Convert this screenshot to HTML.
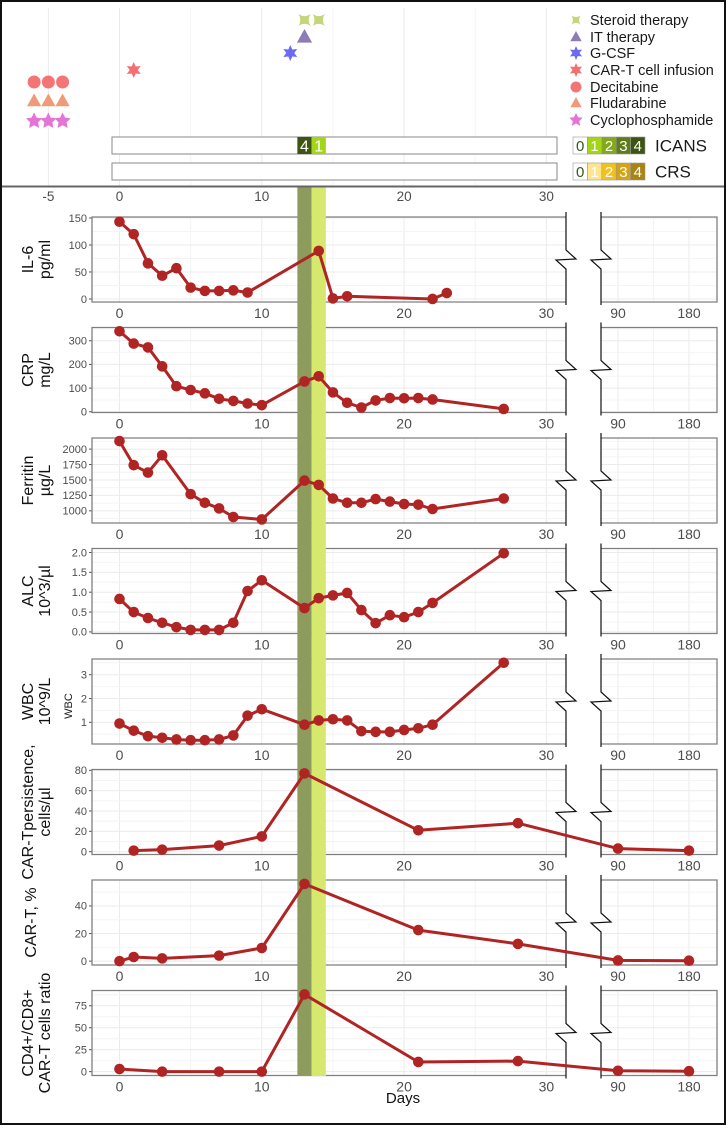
<!DOCTYPE html>
<html><head><meta charset="utf-8"><style>
html,body{margin:0;padding:0;background:#fff;}
svg{display:block;font-family:"Liberation Sans",sans-serif;}
</style></head><body>
<svg id="chart" width="726" height="1126" viewBox="0 0 726 1126" xmlns="http://www.w3.org/2000/svg"></svg>
<script>
// ---------- data ----------
const il6Days = [0,1,2,3,4,5,6,7,8,9,14,15,16,22,23];
const il6Vals = [143,120,66,43,57,21,15,15,16,12,89,1,5,0,11];
const crpDays = [0,1,2,3,4,5,6,7,8,9,10,13,14,15,16,17,18,19,20,21,22,27];
const crpVals = [340,288,272,192,108,92,78,55,46,35,28,128,150,82,38,18,48,58,57,58,52,12];
const ferDays = [0,1,2,3,5,6,7,8,10,13,14,15,16,17,18,19,20,21,22,27];
const ferVals = [2130,1740,1620,1900,1270,1130,1040,900,860,1490,1420,1200,1130,1130,1190,1150,1110,1100,1030,1200];
const alcDays = [0,1,2,3,4,5,6,7,8,9,10,13,14,15,16,17,18,19,20,21,22,27];
const alcVals = [0.83,0.5,0.35,0.23,0.12,0.05,0.05,0.05,0.23,1.03,1.3,0.6,0.85,0.92,0.98,0.55,0.22,0.42,0.37,0.5,0.73,1.98];
const wbcDays = [0,1,2,3,4,5,6,7,8,9,10,13,14,15,16,17,18,19,20,21,22,27];
const wbcVals = [0.95,0.65,0.42,0.35,0.28,0.25,0.25,0.28,0.45,1.28,1.55,0.9,1.08,1.13,1.08,0.63,0.6,0.6,0.68,0.75,0.9,3.5];
const persDays = [1,3,7,10,13,21,28,90,180];
const persVals = [1,2,6,15,77,21,28,3,1];
const pctDays = [0,1,3,7,10,13,21,28,90,180];
const pctVals = [0,3,2,4,9.5,56,22.5,12.5,0.5,0.3];
const ratioDays = [0,3,7,10,13,21,28,90,180];
const ratioVals = [3,0,0,0,88,11,12,1,0.5];
const il6Ticks = [0,50,100,150];
const crpTicks = [0,100,200,300];
const ferTicks = [1000,1250,1500,1750,2000];
const alcTicks = [0,0.5,1,1.5,2];
const alcTickLabels = ["0.0","0.5","1.0","1.5","2.0"];
const wbcTicks = [1,2,3];
const persTicks = [0,20,40,60,80];
const pctTicks = [0,20,40];
const ratioTicks = [0,25,50,75];
const xTicksLeft = [0,10,20,30];
const xTicksRight = [90,180];
const topTicks = [-5,0,10,20,30];
const legendLabels = ["Steroid therapy","IT therapy","G-CSF","CAR-T cell infusion","Decitabine","Fludarabine","Cyclophosphamide"];
const steroidDays = [13,14];
const itDays = [13];
const gcsfDays = [12];
const infusionDays = [1];
const decitabineDays = [-6,-5,-4];
const fludarabineDays = [-6,-5,-4];
const cycloDays = [-6,-5,-4];
const icansGrades = [{start:12.5,end:13.5,grade:4},{start:13.5,end:14.5,grade:1}];
const icansColors = ["#ffffff","#a4d616","#84a81c","#5f7c1a","#3d5412"];
const crsColors = ["#ffffff","#ffe58e","#f1c21f","#d4a414","#a88412"];

// ---------- scales ----------
const NS="http://www.w3.org/2000/svg";
const svg=document.getElementById('chart');
function mk(tag,attrs,parent){const e=document.createElementNS(NS,tag);for(const k in attrs)e.setAttribute(k,attrs[k]);(parent||svg).appendChild(e);return e;}
const X0=119.5, PX=14.23;
function xL(d){return X0+d*PX;}
const LEFT=92, LRIGHT=566, RLEFT=601, RRIGHT=717;
function xR(d){return 618+(d-90)*(71/90);}
function xAny(d){return d>60?xR(d):xL(d);}

const panels=[
 {name:'il6',l1:'IL-6',l2:'pg/ml',days:il6Days,vals:il6Vals,ticks:il6Ticks,dom:[-5.6,151.8]},
 {name:'crp',l1:'CRP',l2:'mg/L',days:crpDays,vals:crpVals,ticks:crpTicks,dom:[-3,356]},
 {name:'ferritin',l1:'Ferritin',l2:'µg/L',days:ferDays,vals:ferVals,ticks:ferTicks,dom:[803,2180]},
 {name:'alc',l1:'ALC',l2:'10^3/µl',days:alcDays,vals:alcVals,ticks:alcTicks,labels:alcTickLabels,dom:[-0.04,2.1]},
 {name:'wbc',l1:'WBC',l2:'10^9/L',days:wbcDays,vals:wbcVals,ticks:wbcTicks,dom:[0.09,3.66],extra:'WBC'},
 {name:'car-t-persistence',l1:'CAR-Tpersistence,',l2:'cells/µl',days:persDays,vals:persVals,ticks:persTicks,dom:[-2.8,80.8]},
 {name:'car-t-percent',l1:'CAR-T, %',l2:null,days:pctDays,vals:pctVals,ticks:pctTicks,dom:[-2.8,58.8]},
 {name:'cd4-cd8-ratio',l1:'CD4+/CD8+',l2:'CAR-T cells ratio',days:ratioDays,vals:ratioVals,ticks:ratioTicks,dom:[-4.4,92.4]}
];
const H=85;

// ---------- top section ----------
const topG=mk('g',{});


[-5,0,5,10,15,20,25,30].forEach(d=>{mk('line',{x1:xL(d),x2:xL(d),y1:8,y2:186,stroke:(d%10===0||d===-5)?'#ebebeb':'#f6f6f6','stroke-width':1},topG);});

function star(cx,cy,r,n,color,parent){let p=[];for(let i=0;i<2*n;i++){const a=-Math.PI/2+i*Math.PI/n;const rr=i%2?r*0.5:r;p.push((cx+rr*Math.cos(a)).toFixed(1)+','+(cy+rr*Math.sin(a)).toFixed(1));}return mk('polygon',{points:p.join(' '),fill:color},parent);}
function tri(cx,cy,r,color,parent){return mk('polygon',{points:`${cx},${cy-r} ${cx+r*0.95},${cy+r*0.7} ${cx-r*0.95},${cy+r*0.7}`,fill:color},parent);}
function bow(cx,cy,r,color,parent){return mk('path',{d:`M${cx-r},${cy-r} Q${cx},${cy-r*0.3} ${cx+r},${cy-r} Q${cx+r*0.4},${cy} ${cx+r},${cy+r} Q${cx},${cy+r*0.3} ${cx-r},${cy+r} Q${cx-r*0.4},${cy} ${cx-r},${cy-r}Z`,fill:color},parent);}
function circ(cx,cy,r,color,parent){return mk('circle',{cx:cx,cy:cy,r:r,fill:color},parent);}

const colSteroid='#c3d77a', colIT='#8d7cb6', colG='#6a6af5', colInf='#f46f6f', colDec='#f47575', colFlu='#f09a78', colCyc='#e574d6';
steroidDays.forEach(d=>{const m=bow(xL(d),20,6,colSteroid,topG);

});
itDays.forEach(d=>{const m=tri(xL(d),37,8,colIT,topG);

});
gcsfDays.forEach(d=>{const m=star(xL(d),53,8,6,colG,topG);

});
infusionDays.forEach(d=>{const m=star(xL(d),70,8,6,colInf,topG);

});
decitabineDays.forEach(d=>{const m=circ(xL(d),82,6.5,colDec,topG);

});
fludarabineDays.forEach(d=>{const m=tri(xL(d),101,7.5,colFlu,topG);

});
cycloDays.forEach(d=>{const m=star(xL(d),121,8.5,5,colCyc,topG);

});

// legend
const legColors=[colSteroid,colIT,colG,colInf,colDec,colFlu,colCyc];
const legY=[20,37,53,70,87,103,120];
legendLabels.forEach((lab,i)=>{
  const g=mk('g',{},topG);
  
  
  const cx=576, cy=legY[i];
  if(i===0)bow(cx,cy,4.5,legColors[i],g);
  else if(i===1||i===5)tri(cx,cy,6,legColors[i],g);
  else if(i===4)circ(cx,cy,5.5,legColors[i],g);
  else star(cx,cy,7,i===6?5:6,legColors[i],g);
  const t=mk('text',{x:590,y:cy+5,'font-size':14.5,fill:'#1a1a1a'},g);t.textContent=lab;
});

// ICANS / CRS bars
function gradeBar(y,name,colors,segs){
  const g=mk('g',{},topG);
  
  
  mk('rect',{x:112,y:y,width:445,height:17,fill:'#fff',stroke:'#888','stroke-width':1},g);
  segs.forEach(s=>{
    mk('rect',{x:xL(s.start),y:y,width:xL(s.end)-xL(s.start),height:17,fill:colors[s.grade]},g);
    const t=mk('text',{x:(xL(s.start)+xL(s.end))/2,y:y+14.5,'font-size':16,fill:'#fff','text-anchor':'middle'},g);t.textContent=s.grade;
  });
  const lg=mk('g',{},topG);
  
  
  for(let i=0;i<5;i++){
    mk('rect',{x:573+i*14.4,y:y,width:14.4,height:17,fill:colors[i],stroke:'#999','stroke-width':0.6},lg);
    const t=mk('text',{x:573+i*14.4+7.2,y:y+14,'font-size':15,fill:i===0?'#2f5a1a':'#fff','text-anchor':'middle'},lg);t.textContent=i;
  }
  const t=mk('text',{x:655,y:y+14.5,'font-size':17,fill:'#1a1a1a'},lg);t.textContent=name.toUpperCase();
}
gradeBar(137,'icans',icansColors,icansGrades);
gradeBar(163,'crs',crsColors,[]);

mk('line',{x1:0,x2:726,y1:186.5,y2:186.5,stroke:'#666','stroke-width':2});
topTicks.forEach(d=>{const t=mk('text',{x:xL(d),y:201,'font-size':13.5,fill:'#4d4d4d','text-anchor':'middle'});


t.textContent=d;});

// ---------- panels ----------
panels.forEach((p,i)=>{
  const T=217+i*110.5, B=T+H;
  const g=mk('g',{});
  
  
  const yS=v=>B-(v-p.dom[0])/(p.dom[1]-p.dom[0])*H;
  [5,15,25].forEach(d=>mk('line',{x1:xL(d),x2:xL(d),y1:T,y2:B,stroke:'#f4f4f4'},g));
  [0,10,20,30].forEach(d=>mk('line',{x1:xL(d),x2:xL(d),y1:T,y2:B,stroke:'#ebebeb'},g));
  [135].forEach(d=>mk('line',{x1:xR(d),x2:xR(d),y1:T,y2:B,stroke:'#f4f4f4'},g));
  xTicksRight.forEach(d=>mk('line',{x1:xR(d),x2:xR(d),y1:T,y2:B,stroke:'#ebebeb'},g));
  const tk=p.ticks;
  const step=tk[1]-tk[0];
  for(let k=0;k<tk.length+1;k++){
    const mv=tk[0]+(k-0.5)*step;
    if(mv>p.dom[0]&&mv<p.dom[1]){const y=yS(mv);mk('line',{x1:LEFT,x2:LRIGHT,y1:y,y2:y,stroke:'#f4f4f4'},g);mk('line',{x1:RLEFT,x2:RRIGHT,y1:y,y2:y,stroke:'#f4f4f4'},g);}
  }
  tk.forEach((v,k)=>{
    const y=yS(v);
    mk('line',{x1:LEFT,x2:LRIGHT,y1:y,y2:y,stroke:'#ebebeb'},g);
    mk('line',{x1:RLEFT,x2:RRIGHT,y1:y,y2:y,stroke:'#ebebeb'},g);
    mk('line',{x1:LEFT-3,x2:LEFT,y1:y,y2:y,stroke:'#555'},g);
    const t=mk('text',{x:LEFT-5,y:y+3.8,'font-size':11,fill:'#4d4d4d','text-anchor':'end'},g);
    
    
    t.textContent=p.labels?p.labels[k]:v;
  });
  mk('polyline',{points:`${LRIGHT},${T} ${LEFT},${T} ${LEFT},${B} ${LRIGHT},${B}`,fill:'none',stroke:'#7f7f7f','stroke-width':1.3},g);
  mk('polyline',{points:`${RLEFT},${T} ${RRIGHT},${T} ${RRIGHT},${B} ${RLEFT},${B}`,fill:'none',stroke:'#7f7f7f','stroke-width':1.3},g);
  [LRIGHT,RLEFT].forEach(x0=>{
    const b=mk('polyline',{points:`${x0},${T-5} ${x0},${T+33} ${x0+10},${T+42} ${x0-10},${T+43} ${x0},${T+52} ${x0},${B+3}`,fill:'none',stroke:'#111','stroke-width':1.2},g);
    
    
  });
  xTicksLeft.forEach(d=>{const t=mk('text',{x:xL(d),y:B+16,'font-size':14,fill:'#4d4d4d','text-anchor':'middle'},g);
  
  
  t.textContent=d;});
  xTicksRight.forEach(d=>{const t=mk('text',{x:xR(d),y:B+16,'font-size':14,fill:'#4d4d4d','text-anchor':'middle'},g);
  
  
  t.textContent=d;});
  const cy=T+H/2;
  const yl=mk('text',{transform:`translate(0,${cy}) rotate(-90)`,'font-size':16,fill:'#111','text-anchor':'middle'},g);
  
  
  if(p.l2){
    const a=mk('tspan',{x:0,y:33},yl);a.textContent=p.l1;
    const b=mk('tspan',{x:0,y:50},yl);b.textContent=p.l2;
  } else {const a=mk('tspan',{x:0,y:36},yl);a.textContent=p.l1;}
  if(p.extra){const e=mk('text',{transform:`translate(72,${T+47}) rotate(-90)`,'font-size':11,fill:'#222','text-anchor':'middle'},g);
  
  
  e.textContent=p.extra;}
  p.yS=yS;
});

// bands
const b1=mk('rect',{x:xL(12.5),y:187.5,width:xL(13.5)-xL(12.5),height:1076-187.5,fill:'#8d9b5d'});


const b2=mk('rect',{x:xL(13.5),y:187.5,width:xL(14.5)-xL(13.5),height:1076-187.5,fill:'#d6e96e'});



// series
panels.forEach(p=>{
  const g=mk('g',{});
  
  
  const pts=p.days.map((d,k)=>[xAny(d),p.yS(p.vals[k])]);
  const line=mk('polyline',{points:pts.map(q=>q[0].toFixed(1)+','+q[1].toFixed(1)).join(' '),fill:'none',stroke:'#b02424','stroke-width':3,'stroke-linejoin':'round'},g);
  
  
  pts.forEach(q=>{
    const c=mk('circle',{cx:q[0],cy:q[1],r:5.3,fill:'#b02424'},g);
    
    
  });
});

const dl=mk('text',{x:403,y:1103,'font-size':15,fill:'#111','text-anchor':'middle'});


dl.textContent='Days';
const border=mk('rect',{x:1,y:1,width:724,height:1123,fill:'none',stroke:'#111','stroke-width':2});


</script>
</body></html>
